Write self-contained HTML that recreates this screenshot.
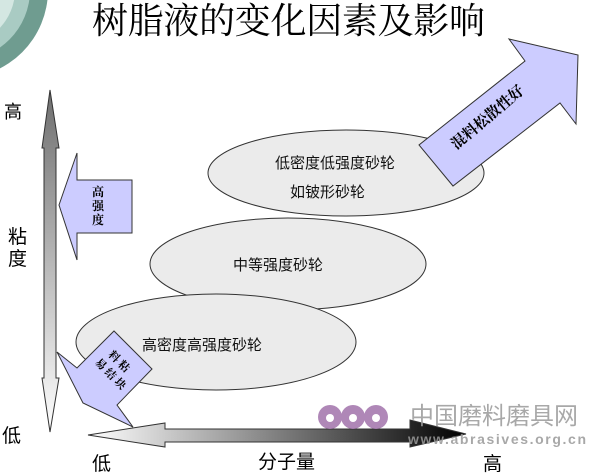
<html><head><style>body{margin:0;background:#fff}svg{display:block}</style></head><body>
<svg width="600" height="476" viewBox="0 0 600 476" xmlns="http://www.w3.org/2000/svg" font-family="Liberation Sans, Noto Sans CJK SC, sans-serif">
<defs>
<linearGradient id="vg" x1="0" y1="0" x2="0" y2="1"><stop offset="0" stop-color="#6e6e6e"/><stop offset="1" stop-color="#ffffff"/></linearGradient>
<linearGradient id="hg" x1="0" y1="0" x2="1" y2="0"><stop offset="0" stop-color="#ffffff"/><stop offset="1" stop-color="#000"/></linearGradient>
</defs>
<circle cx="-40" cy="-10" r="88" fill="#6f9c90"/>
<circle cx="-40" cy="-10" r="70" fill="#a9cbc3"/>
<circle cx="-40" cy="-10" r="55" fill="#d4e7e2"/>
<text x="92" y="33" font-size="36" textLength="393" font-family="Liberation Serif, Noto Serif CJK SC, serif">树脂液的变化因素及影响</text>
<polygon points="50,90 59,148 56,148 56,378 59,378 50,432 42,378 44,378 44,148 42,148" fill="url(#vg)" stroke="#333" stroke-width="1"/>
<text x="4" y="118" font-size="18">高</text>
<text x="8" y="243" font-size="19">粘</text>
<text x="8" y="265" font-size="19">度</text>
<text x="2" y="442" font-size="19">低</text>
<polygon points="59,205 77,153 77,180 132,180 132,233 77,233 77,260" fill="#ccccff" stroke="#333"/>
<text font-size="12" font-weight="bold" font-family="Liberation Serif, Noto Serif CJK SC, serif"><tspan x="92" y="196">高</tspan><tspan x="92" y="210">强</tspan><tspan x="92" y="224">度</tspan></text>
<ellipse cx="346" cy="173" rx="138" ry="43" fill="#ebebeb" stroke="#333"/>
<ellipse cx="288" cy="264" rx="138" ry="46" fill="#ebebeb" stroke="#333"/>
<ellipse cx="216" cy="342" rx="140" ry="48" fill="#ebebeb" stroke="#333"/>
<g font-size="15" fill="#111">
<text x="275" y="168">低密度低强度砂轮</text>
<text x="290" y="197">如铍形砂轮</text>
<text x="233" y="270">中等强度砂轮</text>
<text x="142" y="350">高密度高强度砂轮</text>
</g>
<polygon points="453,186 419,145 525,61 509,39 578,55 576,124 560,103" fill="#ccccff" stroke="#333"/>
<text x="488" y="122" font-size="15" font-weight="bold" font-family="Liberation Serif, Noto Serif CJK SC, serif" text-anchor="middle" transform="rotate(-40 488 118)">混料松散性好</text>
<polygon points="57,352 77,368 114,331 152,369 117,405 133,427 83,403" fill="#ccccff" stroke="#333"/>
<g font-size="11" font-weight="bold" font-family="Liberation Serif, Noto Serif CJK SC, serif" transform="rotate(45 112 368)">
<text x="100" y="362">料 粘</text>
<text x="96" y="377">易 结 块</text>
</g>
<polygon points="88,435 165,423 165,429 410,429 410,420 466,434 410,447 410,442 165,442 165,447" fill="url(#hg)" stroke="#333"/>
<text x="92" y="470" font-size="19">低</text>
<text x="258" y="468" font-size="19">分子量</text>
<text x="483" y="470" font-size="19">高</text>
<g fill="#a77bb0" opacity="0.9">
<circle cx="330" cy="417" r="12"/><circle cx="353" cy="417" r="12"/><circle cx="376" cy="417" r="12"/>
</g>
<g fill="#fff"><circle cx="330" cy="418" r="4"/><circle cx="353" cy="418" r="4"/><circle cx="376" cy="418" r="4"/></g>
<text x="410" y="424" font-size="24" fill="#9a9a9a" opacity="0.85">中国磨料磨具网</text>
<text x="408" y="444" font-size="14" font-weight="bold" fill="#999" opacity="0.85" textLength="178">www.abrasives.org.cn</text>
</svg>
</body></html>
